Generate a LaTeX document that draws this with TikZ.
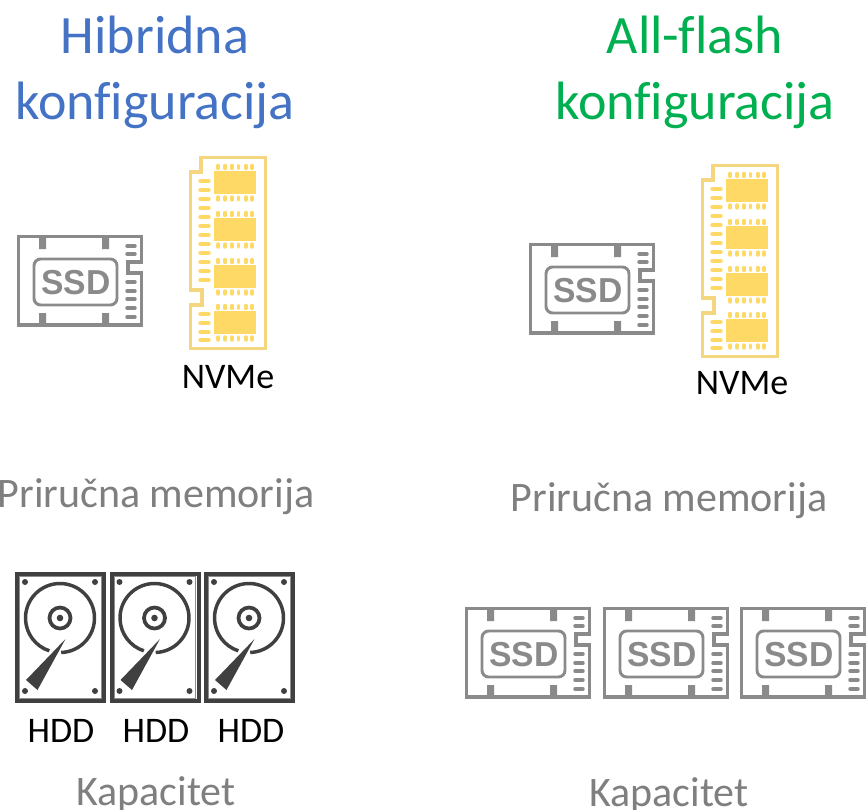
\documentclass[tikz,border=0pt]{standalone}
\usepackage{fontspec}
\setmainfont[Ligatures={NoCommon}]{Carlito}
\newfontfamily\ssdfont{Liberation Sans}
\definecolor{ssdgray}{HTML}{8A8A8A}
\definecolor{ramgold}{HTML}{F3D67E}
\definecolor{ramfill}{HTML}{FFD966}
\definecolor{hddgray}{HTML}{404040}
\definecolor{titleblue}{HTML}{4472C4}
\definecolor{titlegreen}{HTML}{00B050}
\definecolor{capgray}{HTML}{7F7F7F}
\tikzset{
  x=0.75pt,y=-0.75pt,
  title/.style={font=\fontsize{40.5}{40}\selectfont,anchor=base},
  caption/.style={font=\fontsize{31.5}{32}\selectfont,text=capgray,anchor=base},
  small/.style={font=\fontsize{27}{28}\selectfont,text=black,anchor=base},
  ssdline/.style={draw=ssdgray,line width=2.5pt,line join=miter},
  pinline/.style={line cap=round,line width=#1},
  pics/ssd/.style={code={
    \draw[ssdline] (1.5,1.5) -- (124.5,1.5) -- (124.5,27) -- (111,27) -- (111,38) -- (124.5,38) -- (124.5,90) -- (1.5,90) -- cycle;
    \fill[ssdgray] (22,2) rectangle (29,14) (85,2) rectangle (92,14) (22,78) rectangle (29,90) (85,78) rectangle (92,90);
    \draw[draw=ssdgray,line width=2.2pt,rounded corners=5pt] (17,24) rectangle (100,70);
    \node[text=ssdgray,font=\ssdfont\bfseries\fontsize{26}{26}\selectfont,inner sep=0pt,xscale=0.97] at (59,47.5) {SSD};
    \foreach \py in {11,19,47,56,64,73,82}
      \draw[ssdgray,pinline=2.6pt] (110,\py) -- (118,\py);
  }},
  pics/ram/.style={code={
    \draw[draw=ramgold,line width=2.4pt] (12,1.5) -- (76.5,1.5) -- (76.5,192.5) -- (1.5,192.5) -- (1.5,149) -- (13,149) -- (13,134) -- (1.5,134) -- (1.5,16) -- (12,16) -- cycle;
    \foreach \cy in {15,62,109,155}{
      \fill[ramfill] (25,\cy) rectangle (67,\cy+23);
      \foreach \dx in {29,36,43,49.5,57,63}{
        \draw[ramfill,pinline=2.6pt] (\dx,\cy-5.5) -- (\dx,\cy-2.5);
        \draw[ramfill,pinline=2.6pt] (\dx,\cy+26) -- (\dx,\cy+29);
      }
    }
    \foreach \py in {25,34,43,52,61,70,79,88,97,106,115,124,158,167,176,184}
      \draw[ramfill,pinline=2.6pt] (11,\py) -- (20,\py);
  }},
  pics/hdd/.style={code={
    \draw[hddgray,line width=3pt] (2,2) rectangle (89,129);
    \draw[hddgray!60,line width=0.6pt] (4.8,4.8) rectangle (86.2,126.2);
    \fill[hddgray] (10,10) circle (3) (80,10) circle (3) (10,119) circle (3) (80,119) circle (3);
    \draw[hddgray,line width=2.6pt] (45,46) ++(88:34.5) arc[start angle=88,end angle=-252,radius=34.5];
    \draw[hddgray,line width=2.8pt] (45,46) circle (10.5);
    \fill[hddgray] (45,46) circle (3.3);
    \fill[hddgray] (50.5,67) -- (11,108) -- (22.5,118) -- cycle;
  }}
}
\begin{document}
\begin{tikzpicture}
\useasboundingbox (0,0) rectangle (866,809);
\node[title,text=titleblue] (t1) at (155,54) {Hibridna};
\node[title,text=titleblue] (t2) at (155,120) {konfiguracija};
\node[title,text=titlegreen] (t3) at (695,54) {All-flash};
\node[title,text=titlegreen] (t4) at (695,120) {konfiguracija};
\pic at (17,235) {ssd};
\pic at (189,156) {ram};
\node[small] (n1) at (228,388) {NVMe};
\node[caption] (c1) at (156,507) {Priručna memorija};
\pic at (15,572) {hdd};
\pic at (109.5,572) {hdd};
\pic at (204,572) {hdd};
\node[small] (h1) at (61,742) {HDD};
\node[small] (h2) at (156,742) {HDD};
\node[small] (h3) at (251,742) {HDD};
\node[caption] (c2) at (156,805) {Kapacitet};
\pic at (529,243) {ssd};
\pic at (701,164) {ram};
\node[small] (n2) at (742,394) {NVMe};
\node[caption] (c3) at (669,511) {Priručna memorija};
\pic at (465,607) {ssd};
\pic at (603,607) {ssd};
\pic at (740,607) {ssd};
\node[caption] (c4) at (669,806) {Kapacitet};
\end{tikzpicture}
\end{document}
